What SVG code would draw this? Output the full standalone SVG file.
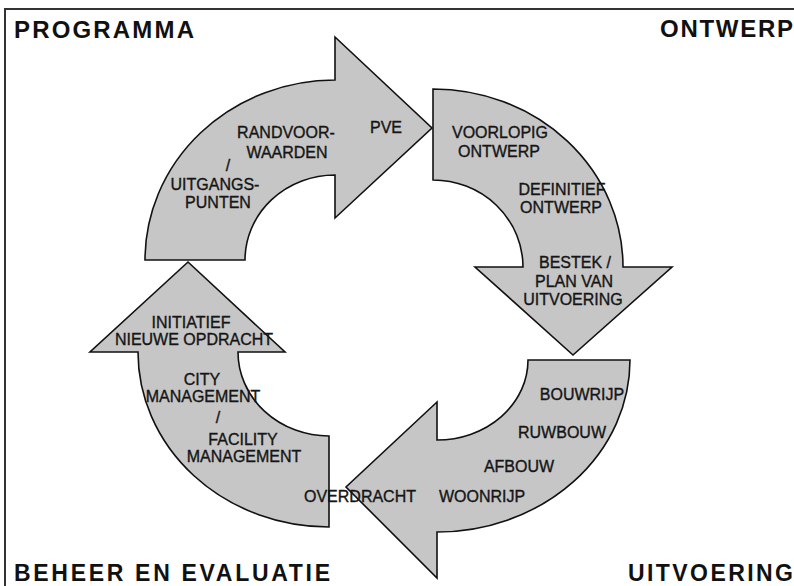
<svg xmlns="http://www.w3.org/2000/svg" width="794" height="586" viewBox="0 0 794 586">
<style>
.arrow{fill:#c6c6c6;stroke:#111;stroke-width:1.6;stroke-linejoin:miter}
.lbl{font-family:"Liberation Sans",Arial,sans-serif;font-size:16px;fill:#151515;stroke:#151515;stroke-width:0.35;text-anchor:middle}
.corner{font-family:"Liberation Sans",Arial,sans-serif;font-size:24px;font-weight:bold;fill:#111}
.cornerb{font-family:"Liberation Sans",Arial,sans-serif;font-size:23px;font-weight:bold;fill:#111}
.frame{fill:none;stroke:#333;stroke-width:2}
</style>
<rect width="794" height="586" fill="#ffffff"/>
<path class="frame" d="M5,586 L5,9 L794,9"/>

<g id="corner-labels">
<text class="corner" x="14" y="38" textLength="180" lengthAdjust="spacing">PROGRAMMA</text>
<text class="corner" x="660" y="37" textLength="133" lengthAdjust="spacing">ONTWERP</text>
<text class="cornerb" x="14" y="581" textLength="316" lengthAdjust="spacing">BEHEER EN EVALUATIE</text>
<text class="cornerb" x="628" y="581" textLength="165" lengthAdjust="spacing">UITVOERING</text>
</g>

<g id="phase-beheer">
<path class="arrow" d="M329,527 A191,175 0 0 1 138,352 L90,352 L188,262 L285,352 L238,352 A91,84 0 0 0 329,436 Z"/>
<text class="lbl" x="191" y="328">INITIATIEF</text>
<text class="lbl" x="194" y="345">NIEUWE OPDRACHT</text>
<text class="lbl" x="202" y="385">CITY</text>
<text class="lbl" x="203" y="402">MANAGEMENT</text>
<text class="lbl" x="218" y="423">/</text>
<text class="lbl" x="243" y="445">FACILITY</text>
<text class="lbl" x="244" y="462">MANAGEMENT</text>
</g>

<g id="phase-programma">
<path class="arrow" d="M145,260 A190,180 0 0 1 335,80 L335,37 L432,128 L335,218 L335,175 A90,85 0 0 0 245,260 Z"/>
<text class="lbl" x="286" y="138">RANDVOOR-</text>
<text class="lbl" x="287" y="158">WAARDEN</text>
<text class="lbl" x="228" y="171">/</text>
<text class="lbl" x="215" y="190">UITGANGS-</text>
<text class="lbl" x="218" y="208">PUNTEN</text>
<text class="lbl" x="386" y="133">PVE</text>
</g>

<g id="phase-ontwerp">
<path class="arrow" d="M433,89 A190,178 0 0 1 623,267 L672,267 L573,355 L475,267 L523,267 A90,87 0 0 0 433,180 Z"/>
<text class="lbl" x="500" y="138">VOORLOPIG</text>
<text class="lbl" x="499" y="157">ONTWERP</text>
<text class="lbl" x="562" y="195">DEFINITIEF</text>
<text class="lbl" x="561" y="213">ONTWERP</text>
<text class="lbl" x="575" y="268">BESTEK /</text>
<text class="lbl" x="574" y="287">PLAN VAN</text>
<text class="lbl" x="573" y="305">UITVOERING</text>
</g>

<g id="phase-uitvoering">
<path class="arrow" d="M630,360 A193,172 0 0 1 437,532 L437,578 L346,487 L437,402 L437,440 A91,80 0 0 0 528,360 Z"/>
<text class="lbl" x="582" y="400">BOUWRIJP</text>
<text class="lbl" x="562" y="438">RUWBOUW</text>
<text class="lbl" x="519" y="472">AFBOUW</text>
<text class="lbl" x="482" y="502">WOONRIJP</text>
<text class="lbl" x="360" y="502">OVERDRACHT</text>
</g>

<g id="connectors"></g>
</svg>
